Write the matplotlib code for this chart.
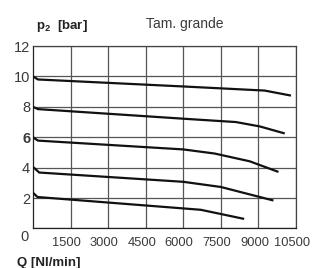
import numpy as np
import matplotlib.pyplot as plt
import matplotlib.transforms as mtransforms

plt.rcParams['font.family'] = ['Liberation Sans', 'DejaVu Sans']
plt.rcParams['mathtext.fontset'] = 'custom'
plt.rcParams['mathtext.rm'] = 'Liberation Sans'
plt.rcParams['mathtext.bf'] = 'Liberation Sans:bold'

# flow Q [Nl/min] and outlet pressure p2 [bar], one curve per set pressure
q_10 = [0, 200, 6000, 9250, 10300]
p_10 = [10.0, 9.8, 9.34, 9.07, 8.74]

q_8 = [0, 200, 6000, 8100, 9060, 10050]
p_8 = [8.0, 7.85, 7.22, 7.0, 6.71, 6.25]

q_6 = [0, 200, 6000, 7250, 8650, 9800]
p_6 = [6.0, 5.78, 5.2, 4.93, 4.42, 3.72]

q_4 = [0, 250, 6000, 7500, 9600]
p_4 = [4.05, 3.68, 3.07, 2.73, 1.84]

q_2 = [0, 180, 6700, 8430]
p_2 = [2.35, 2.07, 1.23, 0.63]

xticks = [1500, 3000, 4500, 6000, 7500, 9000, 10500]
yticks = [0, 2, 4, 6, 8, 10, 12]

fig = plt.figure(figsize=(3.19, 2.68), dpi=100)
ax = fig.add_axes([0.1034, 0.1474, 0.8245, 0.6809])

for q, p in [(q_10, p_10), (q_8, p_8), (q_6, p_6), (q_4, p_4), (q_2, p_2)]:
    ax.plot(q, p, color='#111111', lw=1.6, solid_capstyle='butt', zorder=3)

ax.set_xlim(0, 10500)
ax.set_ylim(0, 12)
ax.set_xticks(xticks)
ax.set_yticks(yticks)
ax.set_xticklabels([str(v) for v in xticks])
ax.set_yticklabels([str(v) for v in yticks])
ax.grid(True, color='#555555', lw=0.9)
ax.set_axisbelow(True)
for s in ax.spines.values():
    s.set_color('#444444')
    s.set_linewidth(0.9)
ax.spines['left'].set_color('#222222')
ax.spines['bottom'].set_color('#222222')
ax.tick_params(length=0, colors='#3a3a3a')
ax.tick_params(axis='y', pad=2, labelsize=10.5)
ax.tick_params(axis='x', pad=6, labelsize=9.3)

# x labels sit a bit left of their grid lines
for lab in ax.get_xticklabels():
    lab.set_transform(lab.get_transform() + mtransforms.ScaledTranslation(-4/100, 0, fig.dpi_scale_trans))
ylabs = ax.get_yticklabels()
ylabs[0].set_transform(ylabs[0].get_transform() + mtransforms.ScaledTranslation(-2/100, -7/100, fig.dpi_scale_trans))
ylabs[3].set_fontweight('bold')

fig.text(36/319, 1 - 29/268, r'p$_\mathbf{2}$  [bar]', fontsize=9.5, fontweight='bold', color='#222222')
fig.text(146/319, 1 - 28/268, 'Tam. grande', fontsize=10, color='#3a3a3a')
fig.text(17/319, 1 - 266/268, 'Q [Nl/min]', fontsize=9.5, fontweight='bold', color='#222222')

fig.savefig('out.png', dpi=100)
